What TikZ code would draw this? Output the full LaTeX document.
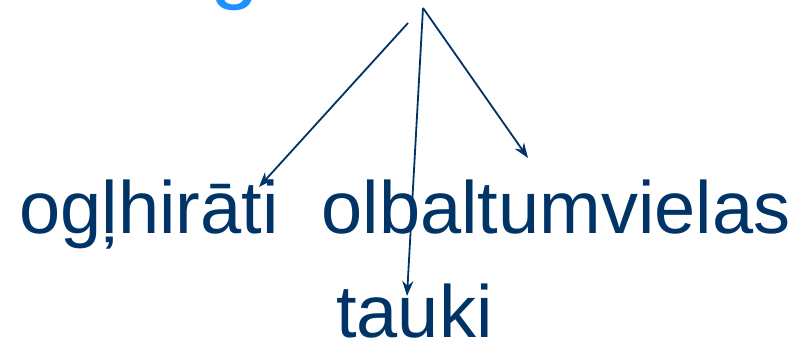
\documentclass[tikz,border=0pt]{standalone}
\usepackage{fontspec}
\setmainfont{Liberation Sans}
\usetikzlibrary{arrows.meta}
\definecolor{navy}{RGB}{0,51,102}
\definecolor{skyblue}{RGB}{30,144,255}
\tikzset{
  word/.style={inner sep=0pt,anchor=base west,text=navy,font=\fontsize{74}{84}\selectfont},
  pfeil/.style={draw=navy,line width=1.8pt,-{Stealth[length=15pt,width=11pt]}}
}
\begin{document}
\begin{tikzpicture}[x=1pt,y=-1pt]
    % Rahmen
    \useasboundingbox (0,0) rectangle (805,341);
    \clip (0,0) rectangle (805,341);
    % Titel (abgeschnitten)
    \node[word,text=skyblue,font=\fontsize{88}{96}\selectfont] (titel) at (210,-8) {g};
    % Begriffe
    \node[word] (kohl) at (19.5,233) {ogļhirāti};
    \node[word] (eiw) at (321.5,233) {olbaltumvielas};
    \node[word] (fett) at (336,337) {tauki};
    % Pfeile
    \coordinate (oben) at (423,8);
    \coordinate (links) at (408,23);
    \coordinate (zk) at (259,187);
    \coordinate (zf) at (407,296);
    \coordinate (ze) at (528,158);
    \draw[pfeil] (links) -- (zk);
    \draw[pfeil] (oben) -- (zf);
    \draw[pfeil] (oben) -- (ze);
\end{tikzpicture}
\end{document}
